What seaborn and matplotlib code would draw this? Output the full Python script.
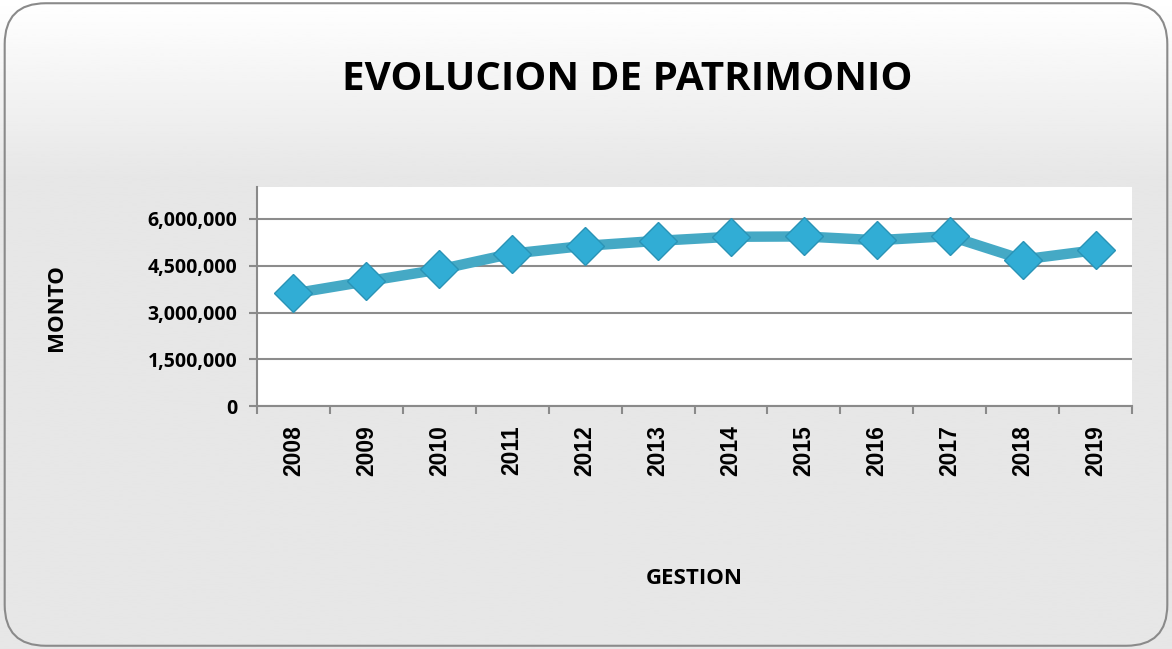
import matplotlib
matplotlib.use("Agg")
import matplotlib.pyplot as plt
from matplotlib.patches import FancyBboxPatch
from matplotlib.ticker import FuncFormatter, FixedLocator
import numpy as np
import pandas as pd
import seaborn as sns

# data
years = ["2008", "2009", "2010", "2011", "2012", "2013",
         "2014", "2015", "2016", "2017", "2018", "2019"]
monto = [3610000, 4000000, 4380000, 4890000, 5140000, 5300000,
         5430000, 5440000, 5320000, 5450000, 4700000, 5000000]
y_ticks = [0, 1500000, 3000000, 4500000, 6000000]

sns.set_theme(style="white")
plt.rcParams["font.family"] = ["Open Sans", "DejaVu Sans"]
plt.rcParams["text.color"] = "black"
plt.rcParams["xtick.color"] = "black"
plt.rcParams["ytick.color"] = "black"

df = pd.DataFrame({"Gestion": years, "Monto": monto})
df["pos"] = np.arange(len(years))

fig = plt.figure(figsize=(11.72, 6.49), dpi=100)

# background: light gradient at the top, flat grey below, rounded frame
bg = fig.add_axes([0, 0, 1, 1], zorder=-10)
bg.set_axis_off()
grad = np.r_[np.linspace(1.0, 0.905, 70), np.full(186, 0.905)].reshape(-1, 1)
bg.imshow(grad, cmap="gray", vmin=0, vmax=1, aspect="auto", extent=[0, 1, 0, 1])
frame = FancyBboxPatch((0.004, 0.005), 0.992, 0.99,
                       boxstyle="round,pad=0,rounding_size=0.035",
                       transform=bg.transAxes, facecolor="none",
                       edgecolor="#8a8a8a", linewidth=1.5, mutation_aspect=1.8)
bg.add_patch(frame)
bg.set_xlim(0, 1)
bg.set_ylim(0, 1)

ax = fig.add_axes([257 / 1172, 1 - 406 / 649, 875 / 1172, 219 / 649])
ax.set_facecolor("white")

sns.lineplot(data=df, x="pos", y="Monto", ax=ax, color="#45A9C5",
             linewidth=7.5, marker="D", markersize=19,
             markerfacecolor="#31ADD5", markeredgecolor="#2a93b6",
             markeredgewidth=1.0, zorder=3)

ax.set_xlim(-0.5, len(years) - 0.5)
ax.set_ylim(0, 6000000 / (406 - 219) * (406 - 187))
ax.yaxis.set_major_locator(FixedLocator(y_ticks))
ax.yaxis.set_major_formatter(FuncFormatter(lambda v, p: f"{int(v):,}"))
ax.grid(axis="y", color="#8c8c8c", linewidth=1.5)
ax.set_axisbelow(True)

ax.set_xticks(df["pos"])
ax.set_xticklabels(years, rotation=90, fontsize=16.5, fontweight="bold",
                   family=["Liberation Sans", "DejaVu Sans"])
ax.xaxis.set_minor_locator(FixedLocator(np.arange(-0.5, len(years), 1)))
ax.tick_params(axis="x", which="major", length=0, pad=14)
ax.tick_params(axis="x", which="minor", length=6, width=1.5, color="#8a8a8a", bottom=True)
ax.tick_params(axis="y", length=6, width=1.5, color="#8a8a8a", left=True, pad=8)
for lab in ax.get_yticklabels():
    lab.set_fontsize(14)
    lab.set_fontweight("bold")
    lab.set_color("black")
for lab in ax.get_xticklabels():
    lab.set_color("black")

for side in ["top", "right"]:
    ax.spines[side].set_visible(False)
for side in ["left", "bottom"]:
    ax.spines[side].set_color("#8a8a8a")
    ax.spines[side].set_linewidth(1.5)

ax.set_xlabel("")
ax.set_ylabel("")
fig.text(627 / 1172, 1 - 80 / 649, "EVOLUCION DE PATRIMONIO", ha="center",
         va="center", fontsize=29, fontweight="bold", color="black")
fig.text(57 / 1172, 1 - 308 / 649, "MONTO", ha="center", va="center",
         rotation=90, fontsize=16, fontweight="bold", color="black")
fig.text(694 / 1172, 1 - 578 / 649, "GESTION", ha="center", va="center",
         fontsize=16, fontweight="bold", color="black")

fig.savefig("out.png", dpi=100)
